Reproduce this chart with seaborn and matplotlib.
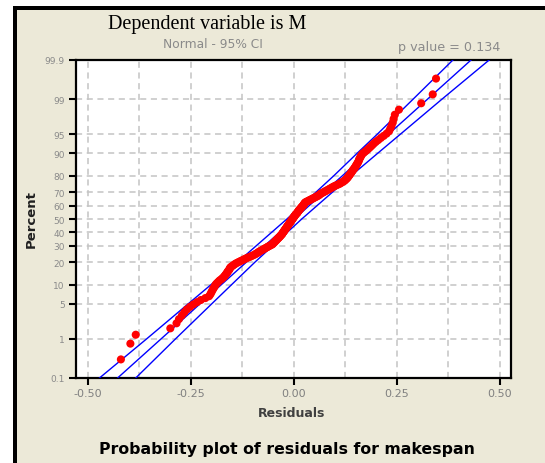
import math
import numpy as np
import pandas as pd
import matplotlib
matplotlib.use("Agg")
import matplotlib.pyplot as plt
from matplotlib.patches import Rectangle
from matplotlib.ticker import FixedLocator, FixedFormatter
import seaborn as sns

# ---------------- data ----------------
residuals = [
    -0.420, -0.397, -0.384, -0.300, -0.285,
    -0.279, -0.272, -0.266, -0.260,
    -0.252, -0.244, -0.235, -0.226, -0.215, -0.206,
    -0.203, -0.201, -0.199, -0.197, -0.195, -0.193, -0.191, -0.189,
    -0.186, -0.183, -0.180, -0.176, -0.173, -0.170, -0.168, -0.166, -0.164, -0.162, -0.161, -0.159,
    -0.157, -0.156, -0.155, -0.153, -0.150, -0.147, -0.144, -0.141, -0.137, -0.133, -0.129, -0.125,
    -0.121, -0.117, -0.113,
    -0.108, -0.104, -0.100, -0.096, -0.093, -0.090, -0.087, -0.085, -0.082, -0.079, -0.076, -0.073,
    -0.070, -0.067, -0.064, -0.061, -0.058, -0.055,
    -0.052, -0.051, -0.049, -0.048, -0.046, -0.045, -0.043, -0.042, -0.040, -0.039, -0.037, -0.036,
    -0.034, -0.033, -0.032, -0.030, -0.029, -0.028, -0.027, -0.026,
    -0.025, -0.024, -0.023, -0.022, -0.021, -0.020, -0.019, -0.018, -0.017, -0.016, -0.015, -0.014,
    -0.013, -0.012, -0.011, -0.010, -0.009, -0.008, -0.007, -0.006, -0.005, -0.004,
    -0.003, -0.002, -0.001, 0.000, 0.001, 0.002, 0.003, 0.004, 0.005, 0.007, 0.008, 0.009,
    0.010, 0.011, 0.012, 0.013, 0.014, 0.016, 0.017, 0.018, 0.019, 0.021,
    0.022, 0.023, 0.024, 0.025, 0.026, 0.027, 0.029, 0.032, 0.035, 0.038, 0.041, 0.044,
    0.047, 0.050, 0.053, 0.056, 0.059, 0.061, 0.063, 0.065,
    0.068, 0.071, 0.074, 0.077, 0.080, 0.083, 0.086, 0.089, 0.092, 0.095, 0.098, 0.102,
    0.106, 0.110, 0.113, 0.116, 0.119, 0.122,
    0.124, 0.126, 0.128, 0.130, 0.131, 0.133, 0.134, 0.136, 0.137, 0.139, 0.140, 0.142,
    0.143, 0.145, 0.147,
    0.148, 0.150, 0.151, 0.153, 0.154, 0.156, 0.157, 0.158, 0.159, 0.161, 0.162, 0.164,
    0.166, 0.170, 0.174, 0.178, 0.182, 0.186, 0.190, 0.194,
    0.199, 0.205, 0.211, 0.218, 0.225, 0.231,
    0.234, 0.237, 0.240, 0.242,
    0.245, 0.255, 0.309, 0.337, 0.345,
]

fit_pct = [0.1, 99.9]
fit_x = [-0.428, 0.430]

band_pct = [0.1, 1, 5, 10, 20, 30, 50, 70, 80, 90, 95, 99, 99.9]
band_lower = [-0.472, -0.357, -0.256, -0.202, -0.137, -0.092, -0.017, 0.054, 0.097, 0.154, 0.202, 0.289, 0.386]
band_upper = [-0.384, -0.287, -0.199, -0.152, -0.095, -0.052, 0.019, 0.094, 0.139, 0.204, 0.258, 0.359, 0.474]

pct_ticks = [0.1, 1, 5, 10, 20, 30, 40, 50, 60, 70, 80, 90, 95, 99, 99.9]
pct_tick_labels = ["0.1", "1", "5", "10", "20", "30", "40", "50", "60", "70", "80", "90", "95", "99", "99.9"]
x_ticks = [-0.50, -0.25, 0.00, 0.25, 0.50]
x_tick_labels = ["-0.50", "-0.25", "0.00", "0.25", "0.50"]
x_grid_minor = [-0.375, -0.125, 0.125, 0.375]

title_text = "Dependent variable is M"
subtitle_text = "Normal - 95% CI"
pvalue_text = "p value = 0.134"
xlabel_text = "Residuals"
ylabel_text = "Percent"
caption_text = "Probability plot of residuals for makespan"

# ---------------- normal probability scale ----------------
_a = [-3.969683028665376e+01, 2.209460984245205e+02, -2.759285104469687e+02,
      1.383577518672690e+02, -3.066479806614716e+01, 2.506628277459239e+00]
_b = [-5.447609879822406e+01, 1.615858368580409e+02, -1.556989798598866e+02,
      6.680131188771972e+01, -1.328068155288572e+01]
_c = [-7.784894002430293e-03, -3.223964580411365e-01, -2.400758277161838e+00,
      -2.549732539343734e+00, 4.374664141464968e+00, 2.938163982698783e+00]
_d = [7.784695709041462e-03, 3.224671290700398e-01, 2.445134137142996e+00,
      3.754408661907416e+00]


def _ppf(p):
    p = np.clip(np.asarray(p, dtype=float), 1e-12, 1 - 1e-12)
    plow = 0.02425
    q = p - 0.5
    r = q * q
    central = (((((_a[0] * r + _a[1]) * r + _a[2]) * r + _a[3]) * r + _a[4]) * r + _a[5]) * q / \
              (((((_b[0] * r + _b[1]) * r + _b[2]) * r + _b[3]) * r + _b[4]) * r + 1)
    ql = np.sqrt(-2 * np.log(p))
    low = (((((_c[0] * ql + _c[1]) * ql + _c[2]) * ql + _c[3]) * ql + _c[4]) * ql + _c[5]) / \
          ((((_d[0] * ql + _d[1]) * ql + _d[2]) * ql + _d[3]) * ql + 1)
    qu = np.sqrt(-2 * np.log(1 - p))
    high = -(((((_c[0] * qu + _c[1]) * qu + _c[2]) * qu + _c[3]) * qu + _c[4]) * qu + _c[5]) / \
           ((((_d[0] * qu + _d[1]) * qu + _d[2]) * qu + _d[3]) * qu + 1)
    return np.where(p < plow, low, np.where(p > 1 - plow, high, central))


_erf = np.frompyfunc(math.erf, 1, 1)


def pct_forward(v):
    return _ppf(np.asarray(v, dtype=float) / 100.0)


def pct_inverse(z):
    z = np.asarray(z, dtype=float)
    return 50.0 * (1.0 + _erf(z / math.sqrt(2.0)).astype(float))


# ---------------- figure ----------------
W, H = 545, 464
fig = plt.figure(figsize=(W / 100, H / 100), dpi=100, facecolor="white")


def fx(px):
    return px / W


def fy(py):
    return 1 - py / H


beige = "#ECE9D8"
fig.patches.append(Rectangle((fx(16), 0), 1 - fx(16), fy(10), transform=fig.transFigure,
                             facecolor=beige, edgecolor="none", zorder=-2))
fig.patches.append(Rectangle((fx(13), 0), fx(3.5), fy(7), transform=fig.transFigure,
                             facecolor="black", edgecolor="none", zorder=-1))
fig.patches.append(Rectangle((fx(13), fy(10.5)), 1 - fx(13), 3.5 / H, transform=fig.transFigure,
                             facecolor="black", edgecolor="none", zorder=-1))

ax = fig.add_axes([fx(76), fy(379), fx(511) - fx(76), (379 - 61) / H])
ax.set_zorder(5)
ax.set_facecolor("white")

n = len(residuals)
df = pd.DataFrame({"Residuals": np.sort(np.asarray(residuals))})
df["Percent"] = 100.0 * (np.arange(1, n + 1) - 0.3) / (n + 0.4)

fit_df = pd.DataFrame({"x": fit_x, "pct": fit_pct})
band_df_lo = pd.DataFrame({"x": band_lower, "pct": band_pct})
band_df_hi = pd.DataFrame({"x": band_upper, "pct": band_pct})

blue = "#0000FF"
for d in (band_df_lo, fit_df, band_df_hi):
    sns.lineplot(data=d, x="x", y="pct", sort=False, estimator=None, color=blue,
                 linewidth=1.0, ax=ax, zorder=3)
sns.scatterplot(data=df, x="Residuals", y="Percent", color="#FF0000", s=34,
                edgecolor="none", linewidth=0, ax=ax, zorder=4)

ax.set_yscale("function", functions=(pct_forward, pct_inverse))
ax.set_ylim(0.1, 99.9)
ax.set_xlim(-0.529, 0.527)

ax.yaxis.set_major_locator(FixedLocator(pct_ticks))
ax.yaxis.set_major_formatter(FixedFormatter(pct_tick_labels))
ax.yaxis.set_minor_locator(FixedLocator([]))
ax.xaxis.set_major_locator(FixedLocator(x_ticks))
ax.xaxis.set_major_formatter(FixedFormatter(x_tick_labels))
ax.xaxis.set_minor_locator(FixedLocator(x_grid_minor))

grid_kw = dict(color="#C4C4C4", linestyle=(0, (4, 3)), linewidth=1.1)
ax.grid(True, which="major", axis="both", **grid_kw)
ax.grid(True, which="minor", axis="x", **grid_kw)
ax.set_axisbelow(True)

for sp in ax.spines.values():
    sp.set_color("black")
    sp.set_linewidth(1.6)

ax.tick_params(axis="y", which="major", direction="out", length=5, width=1.5, color="black",
               labelsize=6.5, labelcolor="#8A8A8A", pad=3)
ax.tick_params(axis="x", which="major", direction="out", length=5, width=1.5, color="black",
               labelsize=8, labelcolor="#808080", pad=2)
ax.tick_params(axis="x", which="minor", length=0)

ax.set_xlabel("")
ax.set_ylabel("")

fig.text(fx(207), fy(25), title_text, family="Liberation Serif", fontsize=14.5,
         ha="center", va="center", color="black")
fig.text(fx(213), fy(45), subtitle_text, fontsize=8.8, ha="center", va="center", color="#8A8A8A")
fig.text(fx(500), fy(48), pvalue_text, fontsize=9.2, ha="right", va="center", color="#8A8A8A")
fig.text(fx(292), fy(414), xlabel_text, fontsize=9, fontweight="bold", ha="center",
         va="center", color="#404040")
fig.text(fx(31), fy(219), ylabel_text, fontsize=9.5, fontweight="bold", rotation=90,
         ha="center", va="center", color="#202020")
fig.text(fx(287), fy(450), caption_text, fontsize=11.3, fontweight="bold", ha="center",
         va="center", color="black")

fig.savefig("out.png", dpi=100, facecolor="white")
